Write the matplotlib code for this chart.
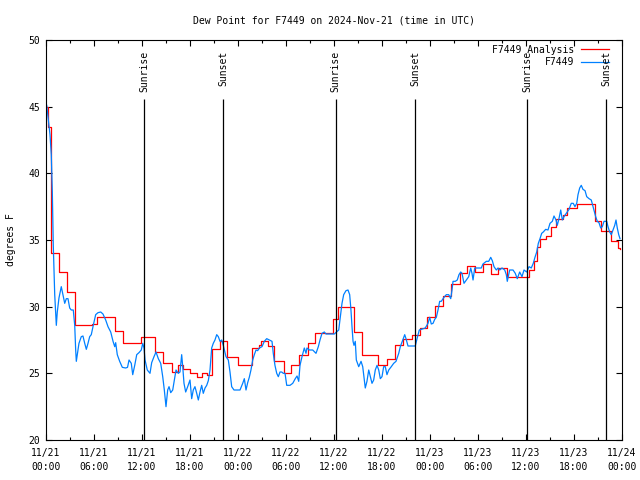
import matplotlib
matplotlib.use("Agg")
import matplotlib.pyplot as plt
from matplotlib.lines import Line2D

# hours since 2024-11-21 00:00 UTC
analysis_hours = [0.0, 0.25, 0.62, 1.62, 2.6, 3.6, 5.75, 6.4, 8.6, 9.6, 11.9, 13.6,
                  14.6, 15.75, 16.5, 17.1, 18.0, 18.9, 19.5, 20.1, 20.75, 21.75,
                  22.6, 24.0, 25.75, 26.6, 26.9, 27.75, 28.5, 29.75, 30.6, 31.6,
                  32.75, 33.6, 35.9, 36.5, 38.5, 39.5, 41.5, 42.6, 43.6, 44.6,
                  45.75, 46.75, 47.6, 48.6, 49.6, 50.6, 51.75, 52.6, 53.6, 54.6,
                  55.6, 56.5, 57.6, 60.4, 61.0, 61.4, 61.75, 62.5, 63.1, 63.75,
                  64.6, 65.1, 66.4, 68.6, 69.4, 70.6, 71.5, 71.7]
analysis_dewpt = [45.0, 43.5, 34.0, 32.6, 31.1, 28.6, 28.7, 29.2, 28.2, 27.3, 27.7, 26.6,
                  25.8, 25.1, 25.6, 25.3, 25.0, 24.75, 25.0, 24.9, 26.8, 27.4,
                  26.25, 25.6, 26.9, 27.1, 27.4, 27.05, 25.9, 25.05, 25.6, 26.4,
                  27.25, 28.05, 29.05, 29.95, 28.1, 26.4, 25.6, 26.1, 27.1, 27.6,
                  27.9, 28.4, 29.2, 30.05, 30.8, 31.7, 32.5, 33.05, 32.6, 33.2,
                  32.45, 32.9, 32.25, 32.75, 33.4, 34.45, 35.05, 35.3, 35.95, 36.6,
                  36.9, 37.4, 37.7, 36.4, 35.7, 34.95, 34.4, 34.3]

obs_hours = [0.09, 0.5, 0.66, 0.79, 0.91, 1.09, 1.29, 1.41, 1.62, 1.91, 2.12, 2.34,
             2.54, 2.75, 2.96, 3.16, 3.41, 3.59, 3.71, 3.79, 3.91, 4.12, 4.41, 4.62,
             4.84, 5.04, 5.25, 5.46, 5.66, 5.91, 6.21, 6.5, 6.84, 7.12, 7.46, 7.75,
             8.09, 8.38, 8.59, 8.71, 8.91, 9.21, 9.54, 9.96, 10.19, 10.38, 10.66, 10.84,
             11.09, 11.34, 11.62, 11.91, 12.09, 12.25, 12.38, 12.66, 13.0, 13.21, 13.5, 13.75,
             14.04, 14.34, 14.59, 14.79, 15.0, 15.21, 15.38, 15.59, 15.84, 16.04, 16.25, 16.54,
             16.75, 16.96, 17.09, 17.25, 17.46, 17.71, 18.0, 18.21, 18.41, 18.62, 18.84, 19.04,
             19.25, 19.46, 19.66, 19.88, 20.09, 20.29, 20.5, 20.71, 20.91, 21.12, 21.34, 21.54,
             21.75, 21.96, 22.16, 22.5, 22.79, 23.0, 23.21, 23.5, 23.91, 24.25, 24.59, 24.79,
             25.0, 25.21, 25.41, 25.62, 25.84, 26.04, 26.25, 26.46, 26.66, 27.0, 27.29, 27.59,
             27.91, 28.25, 28.41, 28.62, 28.84, 29.04, 29.25, 29.46, 29.66, 29.88, 30.09, 30.5,
             30.84, 31.16, 31.38, 31.59, 31.75, 32.0, 32.29, 32.5, 32.62, 32.91, 33.34, 33.75,
             34.04, 34.25, 34.5, 34.79, 35.0, 36.04, 36.59, 36.79, 37.0, 37.21, 37.5, 37.75,
             37.96, 38.12, 38.25, 38.38, 38.5, 38.66, 38.79, 39.09, 39.38, 39.59, 39.79, 39.91,
             40.12, 40.34, 40.54, 40.75, 40.96, 41.16, 41.38, 41.59, 41.79, 42.0, 42.21, 42.41,
             42.62, 42.84, 43.16, 43.46, 43.75, 44.09, 44.29, 44.59, 44.84, 45.0, 45.25, 46.16,
             46.38, 46.66, 47.41, 47.75, 47.96, 48.16, 48.38, 48.59, 48.79, 49.0, 49.21, 49.41,
             49.75, 50.04, 50.34, 50.59, 50.75, 50.88, 51.16, 51.41, 51.62, 51.84, 52.0, 52.25,
             52.54, 52.84, 53.09, 53.25, 53.38, 53.59, 54.41, 54.62, 55.04, 55.34, 55.59, 55.79,
             56.0, 56.29, 56.5, 56.71, 57.0, 57.34, 57.54, 57.66, 57.96, 58.38, 58.66, 58.91,
             59.21, 59.5, 59.75, 60.09, 60.38, 60.66, 60.91, 61.12, 61.34, 61.54, 61.75, 61.96,
             62.16, 62.46, 62.75, 63.0, 63.29, 63.5, 63.75, 63.91, 64.12, 64.34, 64.54, 64.75,
             65.04, 65.38, 65.66, 65.91, 66.12, 66.34, 66.5, 66.71, 66.91, 67.12, 67.38, 67.59,
             67.88, 68.16, 68.34, 68.5, 68.71, 68.91, 69.12, 69.34, 69.54, 69.75, 70.09, 70.25,
             70.46, 70.66, 70.88, 71.09, 71.25, 71.41, 71.59, 71.75]
obs_dewpt = [45.1, 42.9, 41.4, 38.6, 34.6, 30.9, 28.6, 29.6, 30.65, 31.5, 30.9, 30.25,
             30.6, 30.6, 29.9, 29.75, 29.75, 28.6, 26.75, 25.9, 26.4, 27.25, 27.75, 27.8,
             27.25, 26.8, 27.25, 27.75, 27.9, 28.6, 29.4, 29.55, 29.6, 29.45, 29.0, 28.5,
             28.1, 27.4, 27.0, 27.3, 26.4, 25.9, 25.45, 25.4, 25.45, 26.0, 25.75, 24.9,
             25.6, 26.4, 26.55, 26.75, 27.25, 26.9, 26.0, 25.25, 25.0, 25.8, 26.25, 26.6,
             26.1, 25.75, 24.75, 23.75, 22.5, 23.75, 24.0, 23.55, 23.75, 24.5, 25.25, 25.0,
             25.1, 26.4, 25.5, 24.25, 23.6, 24.0, 24.5, 23.1, 23.75, 24.0, 23.5, 23.0,
             23.6, 24.1, 23.5, 23.9, 24.1, 24.45, 25.25, 26.9, 27.25, 27.5, 27.9, 27.75,
             27.4, 27.5, 27.1, 26.25, 26.0, 25.1, 24.0, 23.75, 23.75, 23.75, 24.25, 24.6,
             23.75, 24.3, 24.7, 25.25, 26.0, 26.4, 26.75, 26.7, 26.9, 27.0, 27.4, 27.6,
             27.5, 27.4, 26.5, 25.6, 25.0, 24.75, 25.1, 25.1, 25.0, 25.0, 24.1, 24.1,
             24.25, 24.6, 24.8, 24.4, 25.6, 26.25, 26.9, 26.5, 26.9, 26.75, 26.75, 26.5,
             27.0, 27.5, 28.0, 28.1, 27.95, 27.95, 28.25, 29.25, 30.25, 30.9, 31.2, 31.25,
             30.9, 29.75, 28.5, 27.4, 27.1, 27.4, 26.0, 25.5, 25.9, 25.5, 24.5, 23.9,
             24.4, 25.25, 24.75, 24.25, 24.5, 25.25, 25.6, 25.25, 24.6, 24.75, 25.5, 25.5,
             24.9, 25.25, 25.5, 25.75, 25.9, 26.5, 27.0, 27.5, 27.9, 27.6, 27.05, 27.05,
             27.6, 28.25, 28.4, 28.75, 29.2, 28.7, 28.75, 29.05, 29.2, 29.75, 30.4, 30.4,
             30.7, 30.9, 30.9, 30.6, 31.25, 31.9, 31.9, 32.0, 32.4, 32.6, 32.5, 31.75,
             32.0, 32.25, 32.9, 32.5, 32.0, 32.9, 32.9, 33.2, 33.4, 33.4, 33.7, 33.45,
             33.0, 32.75, 32.9, 32.75, 32.9, 32.75, 32.4, 31.9, 32.75, 32.75, 32.5, 32.1,
             32.6, 32.25, 32.75, 32.6, 33.0, 32.9, 33.25, 33.7, 34.1, 34.75, 35.1, 35.5,
             35.6, 35.8, 35.75, 36.25, 36.4, 36.8, 36.5, 36.1, 36.6, 37.25, 36.5, 36.75,
             37.0, 37.3, 37.75, 37.75, 37.5, 37.75, 38.4, 38.9, 39.1, 38.8, 38.7, 38.25,
             38.1, 38.0, 37.6, 37.25, 36.75, 36.4, 36.3, 35.9, 36.0, 36.4, 36.4, 36.0,
             35.6, 35.4, 35.75, 36.1, 36.5, 35.9, 35.4, 35.1]

sun_hours = [12.29, 22.16, 36.21, 46.16, 60.16, 70.0]
sun_labels = ["Sunrise", "Sunset", "Sunrise", "Sunset", "Sunrise", "Sunset"]

tick_hours = list(range(0, 73, 6))
tick_labels = ["11/21\n00:00", "11/21\n06:00", "11/21\n12:00", "11/21\n18:00",
               "11/22\n00:00", "11/22\n06:00", "11/22\n12:00", "11/22\n18:00",
               "11/23\n00:00", "11/23\n06:00", "11/23\n12:00", "11/23\n18:00",
               "11/24\n00:00"]

plt.rcParams["font.family"] = ["DejaVu Sans Mono"]
plt.rcParams["font.size"] = 7

fig = plt.figure(figsize=(6.4, 4.8), dpi=100)
ax = fig.add_axes([46 / 640, 40 / 480, 576 / 640, 400 / 480])

ax.plot(analysis_hours, analysis_dewpt, color="#ff0000", lw=0.9, drawstyle="steps-post")
ax.plot(obs_hours, obs_dewpt, color="#0080ff", lw=0.9)

for h, lab in zip(sun_hours, sun_labels):
    ax.vlines(h, 20, 45.6, color="black", lw=0.9)
    ax.text(h, 49.2, lab, rotation=90, ha="center", va="top")

ax.set_xlim(0, 72)
ax.set_ylim(20, 50)
ax.set_xticks(tick_hours)
ax.set_xticklabels(tick_labels)
ax.set_xticks(range(3, 72, 6), minor=True)
ax.set_yticks(range(20, 51, 5))
for lbl in ax.get_xticklabels():
    lbl.set_linespacing(1.45)
ax.tick_params(which="both", direction="in", top=True, right=True, width=0.8)
ax.tick_params(which="major", length=4.5)
ax.tick_params(which="minor", length=2.5)
ax.tick_params(axis="x", pad=6)
ax.tick_params(axis="y", pad=4)
for s in ax.spines.values():
    s.set_linewidth(0.8)

ax.set_title("Dew Point for F7449 on 2024-Nov-21 (time in UTC)", fontsize=7, pad=12)
ax.set_ylabel("degrees F", labelpad=9)

# key in the top right corner
ax.text(0.9167, 0.975, "F7449 Analysis", transform=ax.transAxes, ha="right", va="center")
ax.text(0.9167, 0.945, "F7449", transform=ax.transAxes, ha="right", va="center")
ax.add_line(Line2D([0.9288, 0.9774], [0.977, 0.977], transform=ax.transAxes,
                   color="#ff0000", lw=0.9))
ax.add_line(Line2D([0.9288, 0.9774], [0.945, 0.945], transform=ax.transAxes,
                   color="#0080ff", lw=0.9))

fig.savefig("out.png", dpi=100)
